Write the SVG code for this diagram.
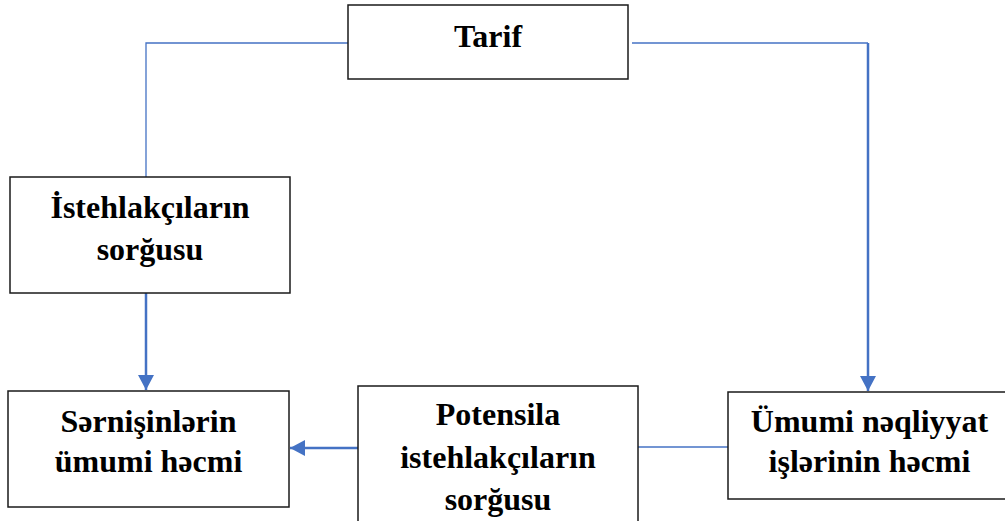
<svg xmlns="http://www.w3.org/2000/svg" width="1005" height="521" viewBox="0 0 1005 521">
  <style>
    .box { fill: #ffffff; stroke: #1a1a1a; stroke-width: 1.5; }
    .lbl { font-family: "Liberation Serif", "Times New Roman", serif; font-weight: bold; font-size: 32px; fill: #000000; text-anchor: middle; }
    .thin { fill: none; stroke: #4472C4; stroke-width: 1.3; }
    .thick { fill: none; stroke: #4472C4; stroke-width: 2.5; }
  </style>
  <defs>
    <marker id="arrow" markerUnits="userSpaceOnUse" markerWidth="16" markerHeight="16" viewBox="0 0 16 16" refX="15" refY="8" orient="auto">
      <path d="M0,0 L15,8 L0,16 Z" fill="#4472C4"/>
    </marker>
  </defs>
  <rect width="1005" height="521" fill="#ffffff"/>

  <g id="connectors">
    <!-- Tarif to consumer demand -->
    <polyline class="thin" points="348,43 146,43 146,177"/>
    <!-- Tarif to total transport work -->
    <polyline class="thin" points="632,43 868,43"/>
    <line class="thick" x1="868" y1="43" x2="868" y2="391" marker-end="url(#arrow)"/>
    <!-- consumer demand to passenger volume -->
    <line class="thick" x1="146" y1="293" x2="146" y2="390" marker-end="url(#arrow)"/>
    <!-- potential demand to passenger volume -->
    <line class="thick" x1="358" y1="448" x2="290" y2="448" marker-end="url(#arrow)"/>
    <!-- potential demand to total transport work -->
    <line class="thin" x1="638" y1="447" x2="728" y2="447"/>
  </g>

  <g id="tarif">
    <rect class="box" x="348" y="5" width="280" height="74"/>
    <text class="lbl" x="488" y="47">Tarif</text>
  </g>

  <g id="istehlakcilarin-sorgusu">
    <rect class="box" x="10" y="177" width="280" height="116"/>
    <text class="lbl" x="150" y="218">İstehlakçıların</text>
    <text class="lbl" x="150" y="260">sorğusu</text>
  </g>

  <g id="sernisinlerin-umumi-hecmi">
    <rect class="box" x="8" y="391" width="281" height="116"/>
    <text class="lbl" x="148.5" y="432">Sərnişinlərin</text>
    <text class="lbl" x="148.5" y="472">ümumi həcmi</text>
  </g>

  <g id="potensila-istehlakcilarin-sorgusu">
    <rect class="box" x="358" y="386" width="280" height="150"/>
    <text class="lbl" x="498" y="425">Potensila</text>
    <text class="lbl" x="498" y="468">istehlakçıların</text>
    <text class="lbl" x="498" y="510">sorğusu</text>
  </g>

  <g id="umumi-neqliyyat-islerinin-hecmi">
    <rect class="box" x="728" y="392" width="283" height="107"/>
    <text class="lbl" x="869.5" y="432">Ümumi nəqliyyat</text>
    <text class="lbl" x="869.5" y="472">işlərinin həcmi</text>
  </g>
</svg>
